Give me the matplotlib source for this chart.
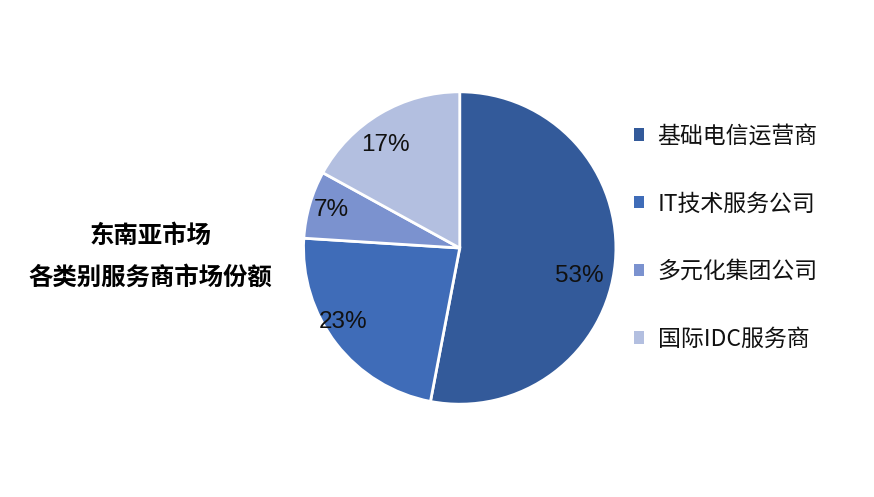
import matplotlib.pyplot as plt

plt.rcParams['font.family'] = ['Noto Sans CJK SC', 'DejaVu Sans']

# Data
categories = ['基础电信运营商', 'IT技术服务公司', '多元化集团公司', '国际IDC服务商']
shares = [53, 23, 7, 17]
colors = ['#335A9A', '#3F6CB8', '#7B92CF', '#B3BFE0']
# label anchor points inside the pie (data units, radius = 1)
label_pos = [(0.764, -0.178), (-0.745, -0.471), (-0.822, 0.242), (-0.478, 0.662)]

fig = plt.figure(figsize=(8.74, 4.97), dpi=100)
ax = fig.add_axes([0.526 - 0.1796, 0.501 - 0.316, 0.3592, 0.632])

wedges, texts, autotexts = ax.pie(
    shares, colors=colors, startangle=90, counterclock=False,
    autopct=lambda p: f'{round(p)}%', pctdistance=0.82,
    wedgeprops={'edgecolor': 'white', 'linewidth': 2},
    textprops={'fontsize': 17.5, 'color': '#111111',
               'family': ['Liberation Sans Narrow', 'Liberation Sans', 'DejaVu Sans']})
for t, pos in zip(autotexts, label_pos):
    t.set_position(pos)
ax.set_aspect('equal')
ax.set_xlim(-1.005, 1.005)
ax.set_ylim(-1.005, 1.005)

fig.text(0.172, 1 - 236 / 497, '东南亚市场', ha='center', va='center',
         fontsize=17.6, fontweight='bold')
fig.text(0.172, 1 - 278 / 497, '各类别服务商市场份额', ha='center', va='center',
         fontsize=17.6, fontweight='bold')

leg = fig.legend(wedges, categories, loc='upper left',
                 bbox_to_anchor=(613 / 874, 1 - 104 / 497),
                 frameon=False, fontsize=16.5, handlelength=0.45, handleheight=0.45,
                 handletextpad=0.6, labelspacing=1.95)
for t in leg.get_texts():
    t.set_color('#111111')
for h in leg.legend_handles:
    h.set_edgecolor('none')

fig.savefig('out.png', dpi=100)
